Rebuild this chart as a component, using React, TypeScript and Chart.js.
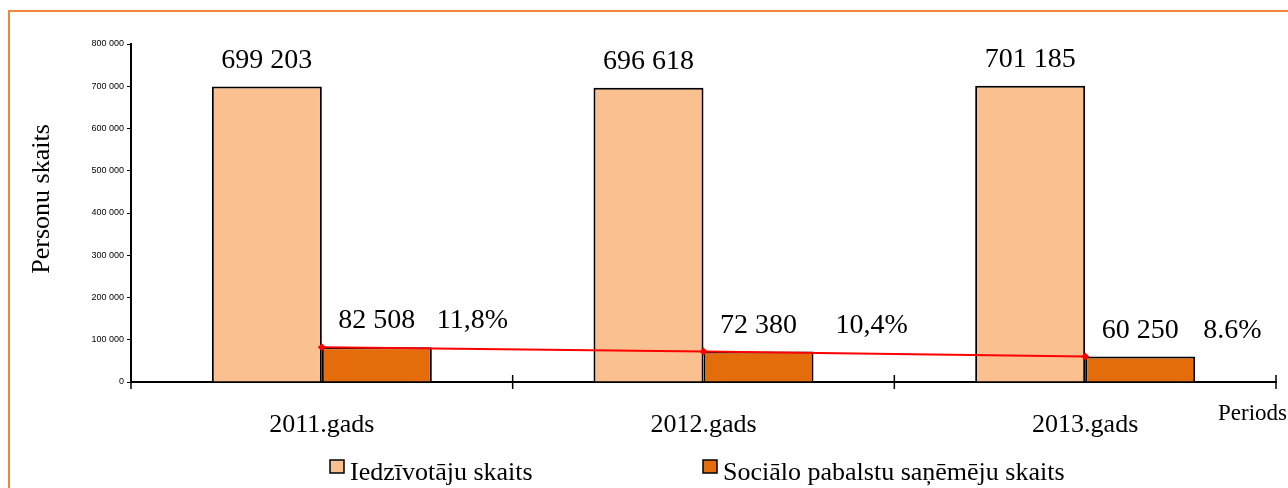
import React, { useEffect, useRef } from "react";
import { Chart, registerables } from "chart.js";

Chart.register(...registerables);

// ---- data ----
const categories = ["2011.gads", "2012.gads", "2013.gads"];
const iedzivotajuSkaits = [699203, 696618, 701185];
const pabalstuSanemeji = [82508, 72380, 60250];
const pabalstuDala = ["11,8%", "10,4%", "8.6%"];
const seriesNames = ["Iedzīvotāju skaits", "Sociālo pabalstu saņēmēju skaits"];
const yMax = 800000;
const yStep = 100000;
const yTitle = "Personu skaits";
const xTitle = "Periods";

const SERIF = "'Liberation Serif', 'Times New Roman', serif";
const SANS = "'Liberation Sans', Arial, sans-serif";
const LIGHT = "#FAC090";
const DARK = "#E46C0A";

const fmt = (v: number) => String(v).replace(/\B(?=(\d{3})+(?!\d))/g, " ");

const decorPlugin = {
  id: "decor",
  afterDatasetsDraw(chart: any) {
    const ctx = chart.ctx as CanvasRenderingContext2D;
    const area = chart.chartArea;
    const x = chart.scales.x;
    ctx.save();

    // cross tick marks on x axis at category boundaries
    const half = (x.getPixelForValue(1) - x.getPixelForValue(0)) / 2;
    ctx.strokeStyle = "#000";
    ctx.lineWidth = 1.5;
    for (let i = 0; i <= categories.length; i++) {
      const px = i < categories.length ? x.getPixelForValue(i) - half : x.getPixelForValue(categories.length - 1) + half;
      ctx.beginPath();
      ctx.moveTo(px, area.bottom - 7);
      ctx.lineTo(px, area.bottom + 7);
      ctx.stroke();
    }

    // value labels (bar datasets 0 and 1)
    ctx.fillStyle = "#000";
    ctx.font = `28px ${SERIF}`;
    ctx.textBaseline = "middle";
    ctx.textAlign = "center";
    [0, 1].forEach((di) => {
      const meta = chart.getDatasetMeta(di);
      meta.data.forEach((bar: any, i: number) => {
        ctx.fillText(fmt(chart.data.datasets[di].data[i]), bar.x, bar.y - 26);
      });
    });

    // share labels
    const nudge = [5, 22, 8];
    ctx.textAlign = "left";
    chart.getDatasetMeta(1).data.forEach((bar: any, i: number) => {
      ctx.fillText(pabalstuDala[i], bar.x + bar.width / 2 + nudge[i], bar.y - 26);
    });

    // y title
    ctx.save();
    ctx.translate(32, 187);
    ctx.rotate(-Math.PI / 2);
    ctx.font = `26px ${SERIF}`;
    ctx.textAlign = "center";
    ctx.textBaseline = "middle";
    ctx.fillText(yTitle, 0, 0);
    ctx.restore();

    // x title
    ctx.font = `23px ${SERIF}`;
    ctx.textAlign = "right";
    ctx.textBaseline = "alphabetic";
    ctx.fillText(xTitle, chart.width - 1, 408);

    // legend
    const items = [
      { x: 320, color: LIGHT, text: seriesNames[0] },
      { x: 693, color: DARK, text: seriesNames[1] },
    ];
    ctx.font = `26px ${SERIF}`;
    items.forEach((it) => {
      ctx.fillStyle = it.color;
      ctx.fillRect(it.x, 448, 14, 13);
      ctx.strokeStyle = "#000";
      ctx.lineWidth = 1.5;
      ctx.strokeRect(it.x, 448, 14, 13);
      ctx.fillStyle = "#000";
      ctx.textAlign = "left";
      ctx.fillText(it.text, it.x + 20, 468);
    });

    ctx.restore();
  },
};

export default function App() {
  const ref = useRef<HTMLCanvasElement>(null);

  useEffect(() => {
    if (!ref.current) return;
    const chart = new Chart(ref.current, {
      type: "bar",
      data: {
        labels: categories,
        datasets: [
          {
            label: seriesNames[0],
            data: iedzivotajuSkaits,
            backgroundColor: LIGHT,
            borderColor: "#000",
            borderWidth: 2,
            categoryPercentage: 0.5764,
            barPercentage: 1,
            order: 1,
          },
          {
            label: seriesNames[1],
            data: pabalstuSanemeji,
            backgroundColor: DARK,
            borderColor: "#000",
            borderWidth: 2,
            categoryPercentage: 0.5764,
            barPercentage: 1,
            order: 1,
          },
          {
            type: "line",
            label: "line",
            data: pabalstuSanemeji,
            borderColor: "#FF0000",
            backgroundColor: "#FF0000",
            borderWidth: 2,
            pointStyle: "rectRot",
            pointRadius: 4,
            pointBorderWidth: 0,
            pointBackgroundColor: "#FF0000",
            tension: 0,
            order: 0,
          } as any,
        ],
      },
      options: {
        responsive: false,
        animation: false,
        events: [],
        layout: { padding: { top: 32, right: 12, left: 0, bottom: 0 } },
        plugins: {
          legend: { display: false },
          tooltip: { enabled: false },
          title: { display: false },
        },
        scales: {
          x: {
            grid: { display: false },
            border: { display: true, color: "#000", width: 2 },
            ticks: {
              color: "#000",
              font: { family: SERIF, size: 26 },
              padding: 20,
              maxRotation: 0,
            },
            afterFit: (s: any) => {
              s.height = 106;
            },
          },
          y: {
            min: 0,
            max: yMax,
            grid: {
              drawOnChartArea: false,
              drawTicks: true,
              tickLength: 4,
              color: "#000",
              lineWidth: 1,
            },
            border: { display: true, color: "#000", width: 2 },
            ticks: {
              stepSize: yStep,
              color: "#000",
              font: { family: SANS, size: 9 },
              padding: 3,
              callback: (v: any) => fmt(Number(v)),
            },
            afterFit: (s: any) => {
              s.width = 121;
            },
          },
        },
      },
      plugins: [decorPlugin],
    });

    return () => chart.destroy();
  }, []);

  return (
    <div
      style={{
        position: "absolute",
        left: 8,
        top: 10,
        width: 1280,
        height: 478,
        boxSizing: "border-box",
        borderTop: "2px solid #F0863A",
        borderLeft: "2px solid #F0863A",
        overflow: "hidden",
        background: "#fff",
      }}
    >
      <canvas ref={ref} width={1278} height={476} style={{ display: "block" }} />
    </div>
  );
}
